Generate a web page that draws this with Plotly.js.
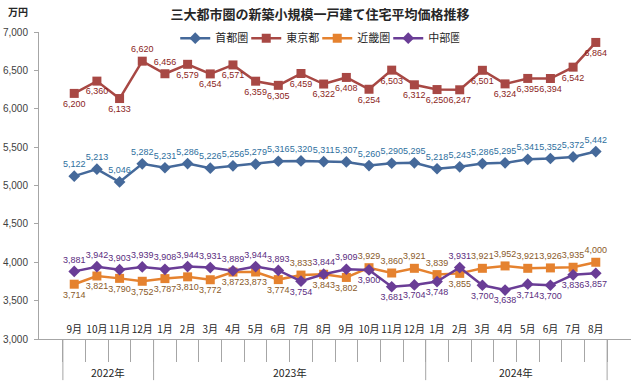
<!DOCTYPE html>
<html><head><meta charset="utf-8">
<script src="https://cdn.plot.ly/plotly-3.0.1.min.js"></script>
<style>body{margin:0;background:#fff}#c{width:640px;height:386px}</style>
</head><body><div id="c"></div>
<script>
const years = ["2022年","2022年","2022年","2022年",
  "2023年","2023年","2023年","2023年","2023年","2023年","2023年","2023年","2023年","2023年","2023年","2023年",
  "2024年","2024年","2024年","2024年","2024年","2024年","2024年","2024年"];
const months = ["9月","10月","11月","12月","1月","2月","3月","4月","5月","6月","7月","8月","9月","10月","11月","12月","1月","2月","3月","4月","5月","6月","7月","8月"];
const shutoken = [5122,5213,5046,5282,5231,5286,5226,5256,5279,5316,5320,5311,5307,5260,5290,5295,5218,5243,5286,5295,5341,5352,5372,5442];
const tokyo = [6200,6360,6133,6620,6456,6579,6454,6571,6359,6305,6459,6322,6408,6254,6503,6312,6250,6247,6501,6324,6395,6394,6542,6864];
const kinki = [3714,3821,3790,3752,3787,3810,3772,3872,3873,3774,3833,3843,3802,3929,3860,3921,3839,3855,3921,3952,3921,3926,3935,4000];
const chubu = [3881,3942,3903,3939,3908,3944,3931,3889,3944,3893,3754,3844,3909,3900,3681,3704,3748,3931,3700,3638,3714,3700,3836,3857];
const seriesNames = ["首都圏","東京都","近畿圏","中部圏"];

const tokyoPos = tokyo.map((v,i)=> (i===3||i===4) ? "top center" : "bottom center");
const kinkiAbove = [10,13,14,15,16,18,19,20,21,22,23];
const kinkiPos = kinki.map((v,i)=> kinkiAbove.includes(i) ? "top center" : "bottom center");
const chubuBelow = [10,13,14,15,16,18,19,20,21,22,23];
const chubuPos = chubu.map((v,i)=> chubuBelow.includes(i) ? "bottom center" : "top center");

const cats = years.map((y,i)=> y + months[i]);
const fmt = a => a.map(v => v.toLocaleString("en-US"));
const F = "'Noto Sans CJK JP', 'Noto Sans', sans-serif";
const FN = "'Liberation Sans', 'Noto Sans', sans-serif";

function tr(name, y, color, tcolor, sym, size, pos){
  return {type:"scatter", mode:"lines+markers+text", name:name, x:cats, y:y,
    line:{color:color, width:2.5}, marker:{color:color, symbol:sym, size:size},
    text:fmt(y), textposition:pos, textfont:{color:tcolor, size:9, family:FN},
    cliponaxis:false};
}
const data = [
  tr(seriesNames[0], shutoken, "#45699a", "#2e6f9e", "diamond", 9, "top center"),
  tr(seriesNames[1], tokyo, "#a84844", "#8b1e22", "square", 9, tokyoPos),
  tr(seriesNames[2], kinki, "#e5822f", "#8a5a2a", "square", 9, kinkiPos),
  tr(seriesNames[3], chubu, "#6a3d96", "#5a2d80", "diamond", 9, chubuPos)
];

// year groups
const groups = [];
years.forEach((y,i)=>{
  if(!groups.length || groups[groups.length-1].name!==y) groups.push({name:y, start:i, end:i});
  else groups[groups.length-1].end = i;
});
const shapes = [];
const annotations = [{text:"<b>万円</b>", xref:"paper", yref:"paper", x:-0.055, y:1.035, xanchor:"left", yanchor:"bottom",
    showarrow:false, font:{size:10, color:"#262626"}}];
const divBottom = -0.134;
groups.forEach((g,k)=>{
  if(k===0) shapes.push({type:"line", xref:"x", yref:"paper", x0:g.start-0.5, x1:g.start-0.5, y0:0, y1:divBottom, line:{color:"#a6a6a6", width:1}});
  shapes.push({type:"line", xref:"x", yref:"paper", x0:g.end+0.5, x1:g.end+0.5, y0:0, y1:divBottom, line:{color:"#a6a6a6", width:1}});
  annotations.push({text:g.name, xref:"x", yref:"paper", x:(g.start+g.end)/2, y:-0.11, yanchor:"middle",
    showarrow:false, font:{size:10.5, color:"#262626"}});
});

const layout = {
  width:640, height:386,
  margin:{l:39, r:9, t:32, b:47},
  paper_bgcolor:"#fff", plot_bgcolor:"#fff",
  font:{family:F, size:11, color:"#404040"},
  showlegend:true,
  legend:{orientation:"h", x:0.47, xanchor:"center", y:0.98, yanchor:"middle",
    font:{size:11, color:"#262626"}, bgcolor:"rgba(0,0,0,0)", itemwidth:30, entrywidth:26},
  title:{text:"三大都市圏の新築小規模一戸建て住宅平均価格推移", x:0.5, xanchor:"center", y:0.962, yanchor:"middle",
    font:{size:13, color:"#262626", family:F, weight:"bold"}},
  xaxis:{type:"category", tickvals:cats, ticktext:months, tickangle:0,
    showline:true, linecolor:"#a6a6a6", linewidth:1,
    ticks:"outside", tickson:"boundaries", ticklen:22, tickcolor:"#a6a6a6", showgrid:false,
    ticklabelstandoff:-19, tickfont:{size:10, color:"#262626"}, zeroline:false},
  yaxis:{range:[3000,7000], dtick:500, tickformat:",d", showgrid:false, showline:true,
    linecolor:"#a6a6a6", linewidth:1, ticks:"outside", ticklen:4, tickcolor:"#a6a6a6", zeroline:false,
    ticklabelstandoff:4, tickfont:{size:10, color:"#404040", family:FN}},
  shapes:shapes,
  annotations:annotations
};
Plotly.newPlot("c", data, layout, {displayModeBar:false});
</script></body></html>
